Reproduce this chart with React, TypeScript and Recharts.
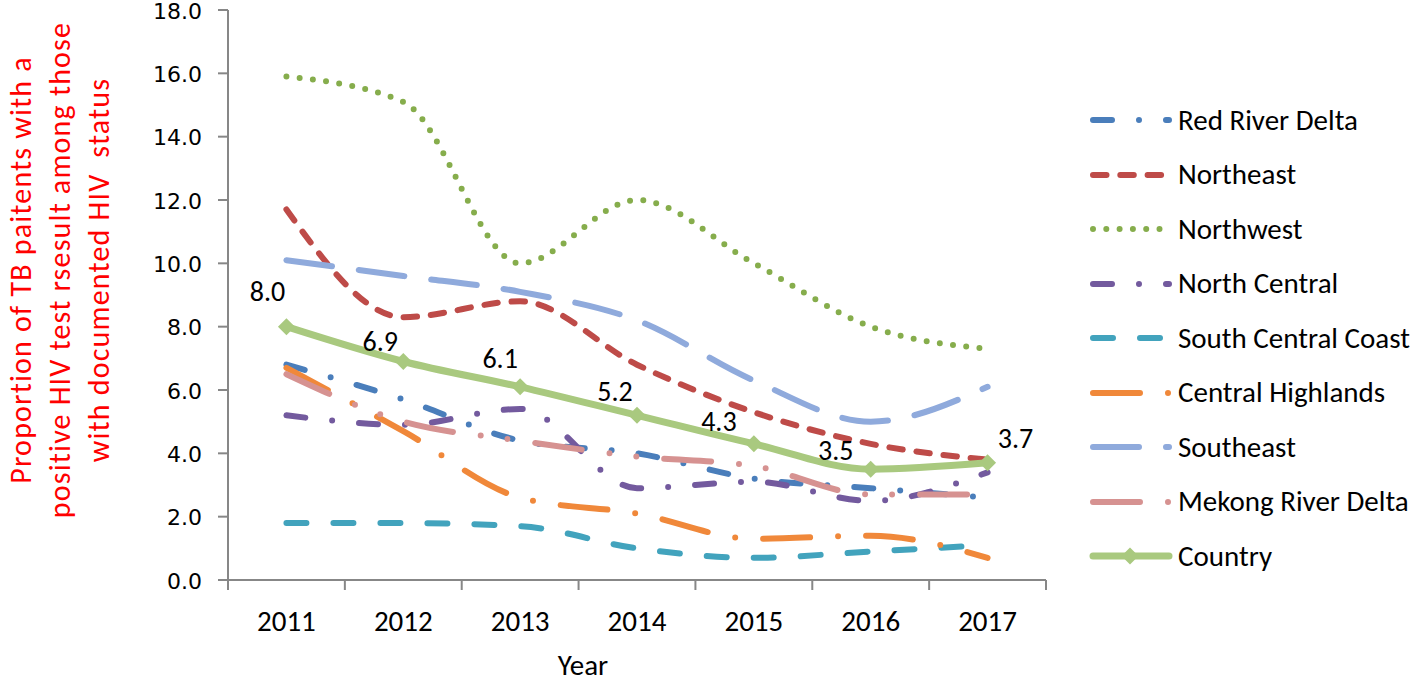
import React from "react";
import { LineChart, Line, XAxis, YAxis, Legend, LabelList } from "recharts";

const years = ["2011", "2012", "2013", "2014", "2015", "2016", "2017"];

const redRiverDelta = [6.8, 5.7, 4.4, 4.0, 3.2, 2.9, 2.6];
const northeast = [11.7, 8.3, 8.8, 6.8, 5.3, 4.3, 3.8];
const northwest = [15.9, 15.1, 10.0, 12.0, 10.0, 8.0, 7.3];
const northCentral = [5.2, 4.9, 5.4, 2.9, 3.1, 2.5, 3.4];
const southCentralCoast = [1.8, 1.8, 1.7, 1.0, 0.7, 0.9, 1.1];
const centralHighlands = [6.7, 4.7, 2.6, 2.1, 1.3, 1.4, 0.7];
const southeast = [10.1, 9.6, 9.1, 8.2, 6.3, 5.0, 6.1];
const mekongRiverDelta = [6.5, 5.0, 4.4, 3.9, 3.6, 2.7, 2.7];
const country = [8.0, 6.9, 6.1, 5.2, 4.3, 3.5, 3.7];

const yTicks = [0, 2, 4, 6, 8, 10, 12, 14, 16, 18];

const FONT = "Carlito, Lato, sans-serif";
const AXIS_GREY = "#878787";

// chart geometry
const W = 1418;
const H = 684;
const PLOT_LEFT = 228;
const PLOT_RIGHT = 1046;
const HALF_BAND = (PLOT_RIGHT - PLOT_LEFT) / years.length / 2;

const series = [
  { key: "rrd", name: "Red River Delta", color: "#4A7EBB", dash: "19 27 0 27", values: redRiverDelta },
  { key: "ne", name: "Northeast", color: "#BE4B48", dash: "13.5 13.8", values: northeast },
  { key: "nw", name: "Northwest", color: "#86AD4C", dash: "0 13.3", values: northwest },
  { key: "nc", name: "North Central", color: "#735A9E", dash: "19 27 0 27", values: northCentral },
  { key: "scc", name: "South Central Coast", color: "#42A3BD", dash: "20 27", values: southCentralCoast },
  { key: "ch", name: "Central Highlands", color: "#F0883A", dash: "47 28 0 28", values: centralHighlands },
  { key: "se", name: "Southeast", color: "#8FAADC", dash: "46 27", values: southeast },
  { key: "mrd", name: "Mekong River Delta", color: "#D69291", dash: "47 28 0 27 0 28", values: mekongRiverDelta },
  { key: "country", name: "Country", color: "#A9C97F", dash: undefined, values: country },
];

const data = years.map((year, i) => {
  const row: Record<string, string | number> = { year };
  series.forEach((s) => {
    row[s.key] = s.values[i];
  });
  return row;
});

// where each Country label sits relative to its point
const labelOffsets = [
  [-19, -35],
  [-23, -20],
  [-20, -28],
  [-22, -24],
  [-35, -22],
  [-35, -19],
  [28, -24],
];

const Diamond = (props: any) => {
  const { cx, cy, index } = props;
  if (cx == null || cy == null) return null;
  const r = 8.5;
  return (
    <polygon
      key={`d-${index}`}
      points={`${cx},${cy - r} ${cx + r},${cy} ${cx},${cy + r} ${cx - r},${cy}`}
      fill="#A9C97F"
    />
  );
};

const CountryLabel = (props: any) => {
  const { x, y, value, index } = props;
  const [dx, dy] = labelOffsets[index] || [0, -20];
  return (
    <text
      x={x + dx}
      y={y + dy}
      textAnchor="middle"
      dominantBaseline="central"
      fontFamily={FONT}
      fontSize={28}
      fill="#000"
    >
      {Number(value).toFixed(1)}
    </text>
  );
};

const XTick = (props: any) => {
  const { x, y, payload, index } = props;
  return (
    <g>
      <line x1={x - HALF_BAND} y1={y} x2={x - HALF_BAND} y2={y + 10} stroke={AXIS_GREY} strokeWidth={2} />
      {index === years.length - 1 && (
        <line x1={x + HALF_BAND} y1={y} x2={x + HALF_BAND} y2={y + 10} stroke={AXIS_GREY} strokeWidth={2} />
      )}
      <text x={x} y={y + 41} textAnchor="middle" dominantBaseline="central" fontFamily={FONT} fontSize={29} fill="#000">
        {payload.value}
      </text>
    </g>
  );
};

const YTitle = () => {
  const cx = 60;
  const cy = 270;
  return (
    <text
      x={cx}
      y={cy}
      transform={`rotate(-90 ${cx} ${cy})`}
      textAnchor="middle"
      fontFamily={FONT}
      fontSize={30}
      letterSpacing={1.2}
      fill="#FF0000"
      style={{ whiteSpace: "pre" }}
    >
      <tspan x={cx} dy={-39 + 10}>Proportion of TB paitents with a</tspan>
      <tspan x={cx} dy={39}>positive HIV test rsesult among those</tspan>
      <tspan x={cx} dy={39}>with documented HIV  status</tspan>
    </text>
  );
};

const XTitle = (props: any) => {
  const { viewBox } = props;
  const cx = viewBox.x + viewBox.width / 2 - 54;
  return (
    <text x={cx} y={viewBox.y + viewBox.height - 9} textAnchor="middle" fontFamily={FONT} fontSize={29} fill="#000">
      Year
    </text>
  );
};

const LegendContent = () => (
  <div style={{ display: "flex", flexDirection: "column" }}>
    {series.map((s) => (
      <div key={s.key} style={{ height: 54.5, display: "flex", alignItems: "center" }}>
        <svg width={93} height={24} style={{ flex: "none" }}>
          <line
            x1={8}
            y1={12}
            x2={84}
            y2={12}
            stroke={s.color}
            strokeWidth={s.key === "country" ? 7 : 6}
            strokeLinecap="round"
            strokeDasharray={s.dash}
          />
          {s.key === "country" && <polygon points="45,3.5 53.5,12 45,20.5 36.5,12" fill={s.color} />}
        </svg>
        <span style={{ fontFamily: FONT, fontSize: 29, color: "#000", whiteSpace: "nowrap", lineHeight: 1 }}>
          {s.name}
        </span>
      </div>
    ))}
  </div>
);

export default function App() {
  return (
    <div style={{ position: "absolute", left: 0, top: 0, width: W, height: H, background: "#fff" }}>
      <LineChart width={W} height={H} data={data} margin={{ top: 10, right: W - PLOT_RIGHT, bottom: 0, left: 128 }}>
        <XAxis
          dataKey="year"
          height={104}
          padding={{ left: HALF_BAND, right: HALF_BAND }}
          axisLine={{ stroke: AXIS_GREY, strokeWidth: 2 }}
          tickLine={false}
          tickSize={0}
          tickMargin={0}
          tick={<XTick />}
          interval={0}
          label={<XTitle />}
        />
        <YAxis
          width={100}
          domain={[0, 18]}
          ticks={yTicks}
          interval={0}
          tickFormatter={(v: number) => v.toFixed(1)}
          axisLine={{ stroke: AXIS_GREY, strokeWidth: 2 }}
          tickLine={{ stroke: AXIS_GREY, strokeWidth: 2 }}
          tickSize={10}
          tickMargin={16}
          tick={{ fill: "#000", fontSize: 22, fontFamily: "DejaVu Sans", dy: 1 }}
          label={<YTitle />}
        />
        <Legend
          layout="vertical"
          align="center"
          verticalAlign="middle"
          content={<LegendContent />}
          wrapperStyle={{ left: 1085, top: 93, width: 333, height: 491 }}
        />
        {series.map((s) =>
          s.key === "country" ? (
            <Line
              key={s.key}
              dataKey={s.key}
              name={s.name}
              type="monotone"
              stroke={s.color}
              strokeWidth={7}
              strokeLinecap="round"
              dot={<Diamond />}
              activeDot={false}
              isAnimationActive={false}
            >
              <LabelList dataKey={s.key} content={<CountryLabel />} />
            </Line>
          ) : (
            <Line
              key={s.key}
              dataKey={s.key}
              name={s.name}
              type="monotone"
              stroke={s.color}
              strokeWidth={6}
              strokeLinecap="round"
              strokeDasharray={s.dash}
              dot={false}
              activeDot={false}
              isAnimationActive={false}
            />
          )
        )}
      </LineChart>
    </div>
  );
}
